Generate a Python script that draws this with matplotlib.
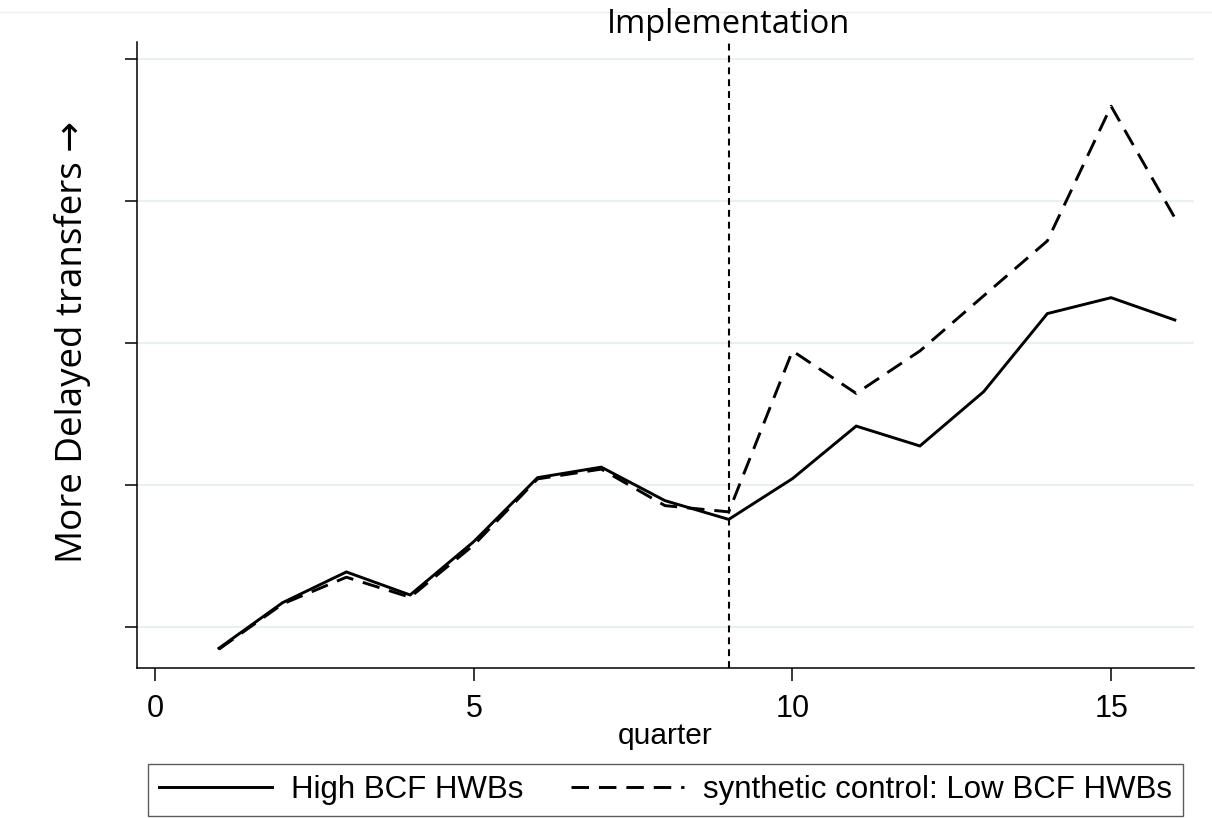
import numpy as np
import matplotlib.pyplot as plt
from matplotlib.lines import Line2D

# quarters and the two series (arbitrary units, y tick spacing = 1)
quarters = np.arange(1, 17)
high_bcf = [-0.150, 0.171, 0.387, 0.225, 0.601, 1.051, 1.125, 0.889,
            0.757, 1.044, 1.414, 1.274, 1.656, 2.206, 2.318, 2.161]
synthetic = [-0.157, 0.162, 0.350, 0.209, 0.577, 1.042, 1.111, 0.854,
             0.810, 1.943, 1.644, 1.943, 2.331, 2.718, 3.666, 2.880]
implementation_q = 9
x_ticks = [0, 5, 10, 15]
y_ticks = [0, 1, 2, 3, 4]

arial = 'Liberation Sans'
calibri = ['Open Sans', 'DejaVu Sans']

fig = plt.figure(figsize=(12.12, 8.18), dpi=100)
ax = fig.add_axes([0.1128, 0.1834, 0.9851 - 0.1128, 0.949 - 0.1834])

# faint outer frame line at the top (behind everything)
fig.add_artist(Line2D([0, 1], [1 - 11.5/818, 1 - 11.5/818], color='#eeeeee', lw=1,
                      zorder=-5))

# gridlines
for yt in y_ticks:
    ax.axhline(yt, color='#e8f0f1', lw=1.6, zorder=0)

ax.plot(quarters, high_bcf, color='black', lw=2.1, solid_joinstyle='miter',
        label='High BCF HWBs')
ax.plot(quarters, synthetic, color='black', lw=2.1, linestyle=(0, (6, 3.4)),
        label='synthetic control: Low BCF HWBs')

ax.axvline(implementation_q, color='black', lw=1.5, linestyle=(0, (3.3, 2.4)))
ax.annotate('Implementation', xy=(implementation_q, 1), xycoords=('data', 'axes fraction'),
            xytext=(0, 6.5), textcoords='offset points', ha='center', va='baseline',
            fontsize=23.5, family=calibri, annotation_clip=False)

ax.set_xlim(-0.29, 16.3)
ax.set_ylim(-0.289, 4.12)
ax.set_xticks(x_ticks)
ax.set_yticks(y_ticks)
ax.set_yticklabels([])
ax.tick_params(axis='x', direction='out', length=9, width=1.1, pad=10,
               labelsize=22)
ax.tick_params(axis='y', direction='out', length=9, width=1.1)
for lab in ax.get_xticklabels():
    lab.set_family(arial)

for s in ['top', 'right']:
    ax.spines[s].set_visible(False)
for s in ['left', 'bottom']:
    ax.spines[s].set_linewidth(1.1)

ax.set_xlabel('quarter', fontsize=21.5, family=arial, labelpad=-2)
ax.set_ylabel('More Delayed transfers \u2192', fontsize=26.5, family=calibri)
ax.yaxis.set_label_coords(-0.0432, 0.521)

leg = fig.legend(loc='center', bbox_to_anchor=(665.5/1212, 1 - 790/818), ncol=2,
                 prop={'family': arial, 'size': 22.5}, frameon=True, fancybox=False,
                 handlelength=3.6, handletextpad=0.6, columnspacing=1.55,
                 borderpad=0.35, borderaxespad=0)
leg.get_frame().set_edgecolor('#333333')
leg.get_frame().set_linewidth(1.0)

fig.savefig('out.png', dpi=100)
